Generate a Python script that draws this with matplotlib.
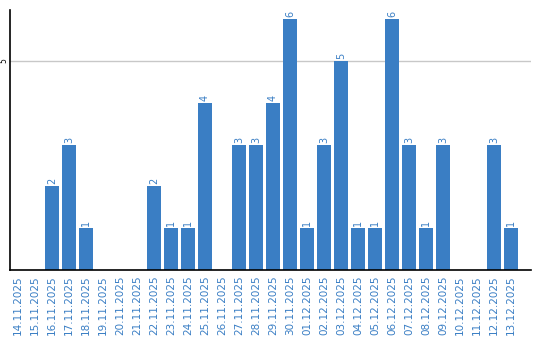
import matplotlib
matplotlib.use('Agg')
import matplotlib.pyplot as plt

dates = ['14.11.2025', '15.11.2025', '16.11.2025', '17.11.2025', '18.11.2025',
         '19.11.2025', '20.11.2025', '21.11.2025', '22.11.2025', '23.11.2025',
         '24.11.2025', '25.11.2025', '26.11.2025', '27.11.2025', '28.11.2025',
         '29.11.2025', '30.11.2025', '01.12.2025', '02.12.2025', '03.12.2025',
         '04.12.2025', '05.12.2025', '06.12.2025', '07.12.2025', '08.12.2025',
         '09.12.2025', '10.12.2025', '11.12.2025', '12.12.2025', '13.12.2025']
counts = [0, 0, 2, 3, 1, 0, 0, 0, 2, 1, 1, 4, 0, 3, 3,
          4, 6, 1, 3, 5, 1, 1, 6, 3, 1, 3, 0, 0, 3, 1]
yticks = [5]

blue = '#3a7ec4'

fig = plt.figure(figsize=(5.4, 3.4), dpi=100)
ax = fig.add_axes([10 / 540, 70 / 340, 521 / 540, 260 / 340])

x = list(range(len(dates)))
ax.bar(x, counts, width=0.82, color=blue, zorder=2)

# value labels above the non-empty bars
for i in x:
    if counts[i] > 0:
        ax.text(i, counts[i] + 0.05, str(counts[i]), rotation=90, ha='center',
                va='bottom', color=blue, fontsize=7)

ax.set_xlim(-0.47, 30.18)
ax.set_ylim(0, 6.22)
ax.set_yticks(yticks)
ax.set_yticklabels([str(v) for v in yticks], rotation=90, fontsize=5.5, va='center')
ax.yaxis.grid(True, color='#c8c8c8', linewidth=1, zorder=0)
ax.tick_params(axis='y', length=0, pad=1)

ax.set_xticks(x)
ax.set_xticklabels(dates, rotation=90, fontsize=7.5, color=blue)
ax.tick_params(axis='x', length=0, pad=4)

for s in ['top', 'right']:
    ax.spines[s].set_visible(False)
ax.spines['left'].set_linewidth(1.2)
ax.spines['bottom'].set_linewidth(1.2)

fig.savefig('out.png', dpi=100)
